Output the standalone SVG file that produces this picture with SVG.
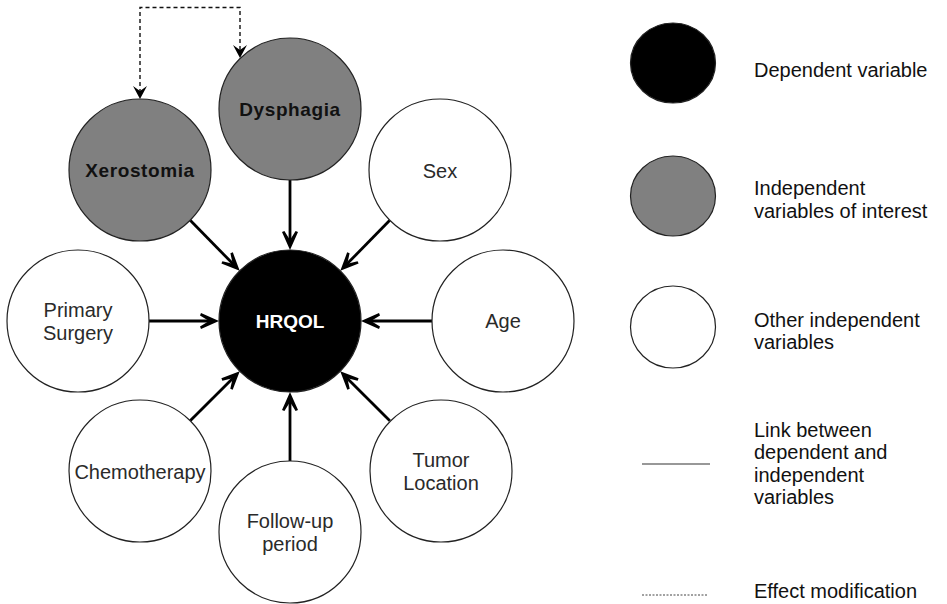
<svg xmlns="http://www.w3.org/2000/svg" width="947" height="604" viewBox="0 0 947 604">
  <style>
    .node { stroke: #222; stroke-width: 1.2; }
    .dep { fill: #000; }
    .key { fill: #808080; }
    .other { fill: #fff; }
    .lbl { font-family: "Liberation Sans", Arial, sans-serif; font-size: 20px; fill: #2a2a2a; text-anchor: middle; }
    .bold { font-weight: bold; font-size: 19px; fill: #111; letter-spacing: 0.6px; }
    .hq { font-weight: bold; font-size: 19px; fill: #fff; }
    .leg { font-family: "Liberation Sans", Arial, sans-serif; font-size: 20px; fill: #111; }
    .link { stroke: #000; stroke-width: 2.8; fill: none; marker-end: url(#arrow); }
    .mod { stroke: #111; stroke-width: 1.4; fill: none; stroke-dasharray: 4 3; marker-start: url(#arrowSmall); marker-end: url(#arrowSmall); }
  </style>
  <defs>
    <!-- open chevron head for the solid links -->
    <marker id="arrow" markerUnits="userSpaceOnUse" viewBox="-12 -10 22 20" markerWidth="22" markerHeight="20" refX="0" refY="0" orient="auto">
      <path d="M8,0 L-10,-8 L-11,-5.6 L-2,0 L-11,5.6 L-10,8 Z" fill="#000"/>
    </marker>
    <marker id="arrowSmall" markerUnits="userSpaceOnUse" viewBox="-8 -9 18 18" markerWidth="18" markerHeight="18" refX="0" refY="0" orient="auto-start-reverse">
      <path d="M8,0 L-5,-7 L0,0 L-5,7 Z" fill="#000"/>
    </marker>
  </defs>

  <!-- connectors -->
  <g id="connectors">
    <line class="link" x1="149" y1="321" x2="211" y2="321"/>
    <line class="link" x1="432" y1="321" x2="369" y2="321"/>
    <line class="link" x1="290" y1="180" x2="290" y2="242"/>
    <line class="link" x1="290" y1="461" x2="290" y2="400"/>
    <line class="link" x1="190.2" y1="220.2" x2="234.1" y2="265.1"/>
    <line class="link" x1="389.8" y1="220.2" x2="345.9" y2="265.1"/>
    <line class="link" x1="190.2" y1="420.8" x2="234.1" y2="376.9"/>
    <line class="link" x1="389.8" y1="420.8" x2="345.9" y2="376.9"/>
    <path class="mod" d="M240,50 V7.5 H140 V91"/>
  </g>

  <g id="hrqol">
    <circle class="node dep" cx="290" cy="321" r="71"/>
    <text class="lbl hq" x="290" y="328">HRQOL</text>
  </g>
  <g id="xerostomia">
    <circle class="node key" cx="140" cy="170" r="71"/>
    <text class="lbl bold" x="140" y="177">Xerostomia</text>
  </g>
  <g id="dysphagia">
    <circle class="node key" cx="290" cy="109" r="71"/>
    <text class="lbl bold" x="290" y="116">Dysphagia</text>
  </g>
  <g id="sex">
    <circle class="node other" cx="440" cy="170" r="71"/>
    <text class="lbl" x="440" y="178">Sex</text>
  </g>
  <g id="age">
    <circle class="node other" cx="503" cy="321" r="71"/>
    <text class="lbl" x="503" y="328">Age</text>
  </g>
  <g id="primary-surgery">
    <circle class="node other" cx="78" cy="321" r="71"/>
    <text class="lbl" x="78" y="317">Primary</text>
    <text class="lbl" x="78" y="340">Surgery</text>
  </g>
  <g id="chemotherapy">
    <circle class="node other" cx="140" cy="471" r="71"/>
    <text class="lbl" x="140" y="479">Chemotherapy</text>
  </g>
  <g id="follow-up">
    <circle class="node other" cx="290" cy="532" r="71"/>
    <text class="lbl" x="290" y="528">Follow-up</text>
    <text class="lbl" x="290" y="551">period</text>
  </g>
  <g id="tumor-location">
    <circle class="node other" cx="441" cy="471" r="71"/>
    <text class="lbl" x="441" y="467">Tumor</text>
    <text class="lbl" x="441" y="490">Location</text>
  </g>

  <!-- legend -->
  <g id="legend">
    <ellipse class="node dep" cx="673" cy="63" rx="42.5" ry="40"/>
    <text class="leg" x="754" y="77">Dependent variable</text>
    <ellipse class="node key" cx="673" cy="196" rx="42.5" ry="40"/>
    <text class="leg" x="754" y="195">Independent</text>
    <text class="leg" x="754" y="218">variables of interest</text>
    <ellipse class="node other" cx="673" cy="327" rx="42.5" ry="41"/>
    <text class="leg" x="754" y="327">Other independent</text>
    <text class="leg" x="754" y="349">variables</text>
    <line x1="642" y1="464" x2="710" y2="464" stroke="#333" stroke-width="1.2"/>
    <text class="leg" x="754" y="437">Link between</text>
    <text class="leg" x="754" y="459">dependent and</text>
    <text class="leg" x="754" y="482">independent</text>
    <text class="leg" x="754" y="504">variables</text>
    <line x1="642" y1="595" x2="707" y2="595" stroke="#444" stroke-width="1" stroke-dasharray="2 1.5"/>
    <text class="leg" x="754" y="598">Effect modification</text>
  </g>
</svg>
